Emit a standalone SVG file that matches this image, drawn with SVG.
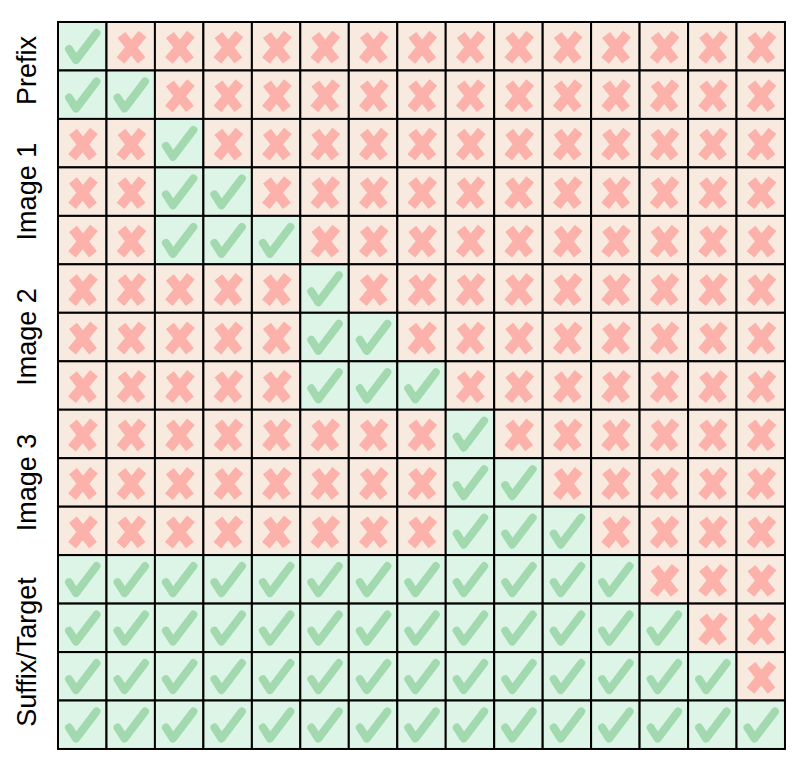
<svg xmlns="http://www.w3.org/2000/svg" xmlns:xlink="http://www.w3.org/1999/xlink" width="797" height="763" viewBox="0 0 797 763">
<style>
.lbl{font-family:"Liberation Sans",Arial,Helvetica,sans-serif;font-size:27px;fill:#000;text-anchor:middle}
.cell{stroke:#000;stroke-width:2}
.ok{fill:#ddf5e7}
.no{fill:#f9eae0}
.chk{fill:none;stroke:#a2d9af;stroke-width:8;stroke-linecap:round;stroke-linejoin:round}
.crs{fill:none;stroke:#fcb1aa;stroke-width:10;stroke-linecap:butt}
</style>
<defs>
<g id="G"><rect class="cell ok" width="48.47" height="48.47"/><path class="chk" d="M11 27 L18 38 L38.5 11"/></g>
<g id="R"><rect class="cell no" width="48.47" height="48.47"/><path class="crs" d="M15 13 L35 38.5 M36 12 L14 38.5"/></g>
</defs>
<g id="labels">
<text class="lbl" transform="translate(36,70.5) rotate(-90)">Prefix</text>
<text class="lbl" transform="translate(36,191.6) rotate(-90)">Image 1</text>
<text class="lbl" transform="translate(36,337) rotate(-90)">Image 2</text>
<text class="lbl" transform="translate(36,482.4) rotate(-90)">Image 3</text>
<text class="lbl" transform="translate(36,652) rotate(-90)">Suffix/Target</text>
</g>
<g id="grid">
<g id="row0">
<g id="c0-0"><use href="#G" x="58" y="22"/></g>
<g id="c0-1"><use href="#R" x="106.5" y="22"/></g>
<g id="c0-2"><use href="#R" x="154.9" y="22"/></g>
<g id="c0-3"><use href="#R" x="203.4" y="22"/></g>
<g id="c0-4"><use href="#R" x="251.9" y="22"/></g>
<g id="c0-5"><use href="#R" x="300.3" y="22"/></g>
<g id="c0-6"><use href="#R" x="348.8" y="22"/></g>
<g id="c0-7"><use href="#R" x="397.3" y="22"/></g>
<g id="c0-8"><use href="#R" x="445.7" y="22"/></g>
<g id="c0-9"><use href="#R" x="494.2" y="22"/></g>
<g id="c0-10"><use href="#R" x="542.7" y="22"/></g>
<g id="c0-11"><use href="#R" x="591.1" y="22"/></g>
<g id="c0-12"><use href="#R" x="639.6" y="22"/></g>
<g id="c0-13"><use href="#R" x="688.1" y="22"/></g>
<g id="c0-14"><use href="#R" x="736.5" y="22"/></g>
</g>
<g id="row1">
<g id="c1-0"><use href="#G" x="58" y="70.5"/></g>
<g id="c1-1"><use href="#G" x="106.5" y="70.5"/></g>
<g id="c1-2"><use href="#R" x="154.9" y="70.5"/></g>
<g id="c1-3"><use href="#R" x="203.4" y="70.5"/></g>
<g id="c1-4"><use href="#R" x="251.9" y="70.5"/></g>
<g id="c1-5"><use href="#R" x="300.3" y="70.5"/></g>
<g id="c1-6"><use href="#R" x="348.8" y="70.5"/></g>
<g id="c1-7"><use href="#R" x="397.3" y="70.5"/></g>
<g id="c1-8"><use href="#R" x="445.7" y="70.5"/></g>
<g id="c1-9"><use href="#R" x="494.2" y="70.5"/></g>
<g id="c1-10"><use href="#R" x="542.7" y="70.5"/></g>
<g id="c1-11"><use href="#R" x="591.1" y="70.5"/></g>
<g id="c1-12"><use href="#R" x="639.6" y="70.5"/></g>
<g id="c1-13"><use href="#R" x="688.1" y="70.5"/></g>
<g id="c1-14"><use href="#R" x="736.5" y="70.5"/></g>
</g>
<g id="row2">
<g id="c2-0"><use href="#R" x="58" y="118.9"/></g>
<g id="c2-1"><use href="#R" x="106.5" y="118.9"/></g>
<g id="c2-2"><use href="#G" x="154.9" y="118.9"/></g>
<g id="c2-3"><use href="#R" x="203.4" y="118.9"/></g>
<g id="c2-4"><use href="#R" x="251.9" y="118.9"/></g>
<g id="c2-5"><use href="#R" x="300.3" y="118.9"/></g>
<g id="c2-6"><use href="#R" x="348.8" y="118.9"/></g>
<g id="c2-7"><use href="#R" x="397.3" y="118.9"/></g>
<g id="c2-8"><use href="#R" x="445.7" y="118.9"/></g>
<g id="c2-9"><use href="#R" x="494.2" y="118.9"/></g>
<g id="c2-10"><use href="#R" x="542.7" y="118.9"/></g>
<g id="c2-11"><use href="#R" x="591.1" y="118.9"/></g>
<g id="c2-12"><use href="#R" x="639.6" y="118.9"/></g>
<g id="c2-13"><use href="#R" x="688.1" y="118.9"/></g>
<g id="c2-14"><use href="#R" x="736.5" y="118.9"/></g>
</g>
<g id="row3">
<g id="c3-0"><use href="#R" x="58" y="167.4"/></g>
<g id="c3-1"><use href="#R" x="106.5" y="167.4"/></g>
<g id="c3-2"><use href="#G" x="154.9" y="167.4"/></g>
<g id="c3-3"><use href="#G" x="203.4" y="167.4"/></g>
<g id="c3-4"><use href="#R" x="251.9" y="167.4"/></g>
<g id="c3-5"><use href="#R" x="300.3" y="167.4"/></g>
<g id="c3-6"><use href="#R" x="348.8" y="167.4"/></g>
<g id="c3-7"><use href="#R" x="397.3" y="167.4"/></g>
<g id="c3-8"><use href="#R" x="445.7" y="167.4"/></g>
<g id="c3-9"><use href="#R" x="494.2" y="167.4"/></g>
<g id="c3-10"><use href="#R" x="542.7" y="167.4"/></g>
<g id="c3-11"><use href="#R" x="591.1" y="167.4"/></g>
<g id="c3-12"><use href="#R" x="639.6" y="167.4"/></g>
<g id="c3-13"><use href="#R" x="688.1" y="167.4"/></g>
<g id="c3-14"><use href="#R" x="736.5" y="167.4"/></g>
</g>
<g id="row4">
<g id="c4-0"><use href="#R" x="58" y="215.9"/></g>
<g id="c4-1"><use href="#R" x="106.5" y="215.9"/></g>
<g id="c4-2"><use href="#G" x="154.9" y="215.9"/></g>
<g id="c4-3"><use href="#G" x="203.4" y="215.9"/></g>
<g id="c4-4"><use href="#G" x="251.9" y="215.9"/></g>
<g id="c4-5"><use href="#R" x="300.3" y="215.9"/></g>
<g id="c4-6"><use href="#R" x="348.8" y="215.9"/></g>
<g id="c4-7"><use href="#R" x="397.3" y="215.9"/></g>
<g id="c4-8"><use href="#R" x="445.7" y="215.9"/></g>
<g id="c4-9"><use href="#R" x="494.2" y="215.9"/></g>
<g id="c4-10"><use href="#R" x="542.7" y="215.9"/></g>
<g id="c4-11"><use href="#R" x="591.1" y="215.9"/></g>
<g id="c4-12"><use href="#R" x="639.6" y="215.9"/></g>
<g id="c4-13"><use href="#R" x="688.1" y="215.9"/></g>
<g id="c4-14"><use href="#R" x="736.5" y="215.9"/></g>
</g>
<g id="row5">
<g id="c5-0"><use href="#R" x="58" y="264.3"/></g>
<g id="c5-1"><use href="#R" x="106.5" y="264.3"/></g>
<g id="c5-2"><use href="#R" x="154.9" y="264.3"/></g>
<g id="c5-3"><use href="#R" x="203.4" y="264.3"/></g>
<g id="c5-4"><use href="#R" x="251.9" y="264.3"/></g>
<g id="c5-5"><use href="#G" x="300.3" y="264.3"/></g>
<g id="c5-6"><use href="#R" x="348.8" y="264.3"/></g>
<g id="c5-7"><use href="#R" x="397.3" y="264.3"/></g>
<g id="c5-8"><use href="#R" x="445.7" y="264.3"/></g>
<g id="c5-9"><use href="#R" x="494.2" y="264.3"/></g>
<g id="c5-10"><use href="#R" x="542.7" y="264.3"/></g>
<g id="c5-11"><use href="#R" x="591.1" y="264.3"/></g>
<g id="c5-12"><use href="#R" x="639.6" y="264.3"/></g>
<g id="c5-13"><use href="#R" x="688.1" y="264.3"/></g>
<g id="c5-14"><use href="#R" x="736.5" y="264.3"/></g>
</g>
<g id="row6">
<g id="c6-0"><use href="#R" x="58" y="312.8"/></g>
<g id="c6-1"><use href="#R" x="106.5" y="312.8"/></g>
<g id="c6-2"><use href="#R" x="154.9" y="312.8"/></g>
<g id="c6-3"><use href="#R" x="203.4" y="312.8"/></g>
<g id="c6-4"><use href="#R" x="251.9" y="312.8"/></g>
<g id="c6-5"><use href="#G" x="300.3" y="312.8"/></g>
<g id="c6-6"><use href="#G" x="348.8" y="312.8"/></g>
<g id="c6-7"><use href="#R" x="397.3" y="312.8"/></g>
<g id="c6-8"><use href="#R" x="445.7" y="312.8"/></g>
<g id="c6-9"><use href="#R" x="494.2" y="312.8"/></g>
<g id="c6-10"><use href="#R" x="542.7" y="312.8"/></g>
<g id="c6-11"><use href="#R" x="591.1" y="312.8"/></g>
<g id="c6-12"><use href="#R" x="639.6" y="312.8"/></g>
<g id="c6-13"><use href="#R" x="688.1" y="312.8"/></g>
<g id="c6-14"><use href="#R" x="736.5" y="312.8"/></g>
</g>
<g id="row7">
<g id="c7-0"><use href="#R" x="58" y="361.3"/></g>
<g id="c7-1"><use href="#R" x="106.5" y="361.3"/></g>
<g id="c7-2"><use href="#R" x="154.9" y="361.3"/></g>
<g id="c7-3"><use href="#R" x="203.4" y="361.3"/></g>
<g id="c7-4"><use href="#R" x="251.9" y="361.3"/></g>
<g id="c7-5"><use href="#G" x="300.3" y="361.3"/></g>
<g id="c7-6"><use href="#G" x="348.8" y="361.3"/></g>
<g id="c7-7"><use href="#G" x="397.3" y="361.3"/></g>
<g id="c7-8"><use href="#R" x="445.7" y="361.3"/></g>
<g id="c7-9"><use href="#R" x="494.2" y="361.3"/></g>
<g id="c7-10"><use href="#R" x="542.7" y="361.3"/></g>
<g id="c7-11"><use href="#R" x="591.1" y="361.3"/></g>
<g id="c7-12"><use href="#R" x="639.6" y="361.3"/></g>
<g id="c7-13"><use href="#R" x="688.1" y="361.3"/></g>
<g id="c7-14"><use href="#R" x="736.5" y="361.3"/></g>
</g>
<g id="row8">
<g id="c8-0"><use href="#R" x="58" y="409.7"/></g>
<g id="c8-1"><use href="#R" x="106.5" y="409.7"/></g>
<g id="c8-2"><use href="#R" x="154.9" y="409.7"/></g>
<g id="c8-3"><use href="#R" x="203.4" y="409.7"/></g>
<g id="c8-4"><use href="#R" x="251.9" y="409.7"/></g>
<g id="c8-5"><use href="#R" x="300.3" y="409.7"/></g>
<g id="c8-6"><use href="#R" x="348.8" y="409.7"/></g>
<g id="c8-7"><use href="#R" x="397.3" y="409.7"/></g>
<g id="c8-8"><use href="#G" x="445.7" y="409.7"/></g>
<g id="c8-9"><use href="#R" x="494.2" y="409.7"/></g>
<g id="c8-10"><use href="#R" x="542.7" y="409.7"/></g>
<g id="c8-11"><use href="#R" x="591.1" y="409.7"/></g>
<g id="c8-12"><use href="#R" x="639.6" y="409.7"/></g>
<g id="c8-13"><use href="#R" x="688.1" y="409.7"/></g>
<g id="c8-14"><use href="#R" x="736.5" y="409.7"/></g>
</g>
<g id="row9">
<g id="c9-0"><use href="#R" x="58" y="458.2"/></g>
<g id="c9-1"><use href="#R" x="106.5" y="458.2"/></g>
<g id="c9-2"><use href="#R" x="154.9" y="458.2"/></g>
<g id="c9-3"><use href="#R" x="203.4" y="458.2"/></g>
<g id="c9-4"><use href="#R" x="251.9" y="458.2"/></g>
<g id="c9-5"><use href="#R" x="300.3" y="458.2"/></g>
<g id="c9-6"><use href="#R" x="348.8" y="458.2"/></g>
<g id="c9-7"><use href="#R" x="397.3" y="458.2"/></g>
<g id="c9-8"><use href="#G" x="445.7" y="458.2"/></g>
<g id="c9-9"><use href="#G" x="494.2" y="458.2"/></g>
<g id="c9-10"><use href="#R" x="542.7" y="458.2"/></g>
<g id="c9-11"><use href="#R" x="591.1" y="458.2"/></g>
<g id="c9-12"><use href="#R" x="639.6" y="458.2"/></g>
<g id="c9-13"><use href="#R" x="688.1" y="458.2"/></g>
<g id="c9-14"><use href="#R" x="736.5" y="458.2"/></g>
</g>
<g id="row10">
<g id="c10-0"><use href="#R" x="58" y="506.7"/></g>
<g id="c10-1"><use href="#R" x="106.5" y="506.7"/></g>
<g id="c10-2"><use href="#R" x="154.9" y="506.7"/></g>
<g id="c10-3"><use href="#R" x="203.4" y="506.7"/></g>
<g id="c10-4"><use href="#R" x="251.9" y="506.7"/></g>
<g id="c10-5"><use href="#R" x="300.3" y="506.7"/></g>
<g id="c10-6"><use href="#R" x="348.8" y="506.7"/></g>
<g id="c10-7"><use href="#R" x="397.3" y="506.7"/></g>
<g id="c10-8"><use href="#G" x="445.7" y="506.7"/></g>
<g id="c10-9"><use href="#G" x="494.2" y="506.7"/></g>
<g id="c10-10"><use href="#G" x="542.7" y="506.7"/></g>
<g id="c10-11"><use href="#R" x="591.1" y="506.7"/></g>
<g id="c10-12"><use href="#R" x="639.6" y="506.7"/></g>
<g id="c10-13"><use href="#R" x="688.1" y="506.7"/></g>
<g id="c10-14"><use href="#R" x="736.5" y="506.7"/></g>
</g>
<g id="row11">
<g id="c11-0"><use href="#G" x="58" y="555.1"/></g>
<g id="c11-1"><use href="#G" x="106.5" y="555.1"/></g>
<g id="c11-2"><use href="#G" x="154.9" y="555.1"/></g>
<g id="c11-3"><use href="#G" x="203.4" y="555.1"/></g>
<g id="c11-4"><use href="#G" x="251.9" y="555.1"/></g>
<g id="c11-5"><use href="#G" x="300.3" y="555.1"/></g>
<g id="c11-6"><use href="#G" x="348.8" y="555.1"/></g>
<g id="c11-7"><use href="#G" x="397.3" y="555.1"/></g>
<g id="c11-8"><use href="#G" x="445.7" y="555.1"/></g>
<g id="c11-9"><use href="#G" x="494.2" y="555.1"/></g>
<g id="c11-10"><use href="#G" x="542.7" y="555.1"/></g>
<g id="c11-11"><use href="#G" x="591.1" y="555.1"/></g>
<g id="c11-12"><use href="#R" x="639.6" y="555.1"/></g>
<g id="c11-13"><use href="#R" x="688.1" y="555.1"/></g>
<g id="c11-14"><use href="#R" x="736.5" y="555.1"/></g>
</g>
<g id="row12">
<g id="c12-0"><use href="#G" x="58" y="603.6"/></g>
<g id="c12-1"><use href="#G" x="106.5" y="603.6"/></g>
<g id="c12-2"><use href="#G" x="154.9" y="603.6"/></g>
<g id="c12-3"><use href="#G" x="203.4" y="603.6"/></g>
<g id="c12-4"><use href="#G" x="251.9" y="603.6"/></g>
<g id="c12-5"><use href="#G" x="300.3" y="603.6"/></g>
<g id="c12-6"><use href="#G" x="348.8" y="603.6"/></g>
<g id="c12-7"><use href="#G" x="397.3" y="603.6"/></g>
<g id="c12-8"><use href="#G" x="445.7" y="603.6"/></g>
<g id="c12-9"><use href="#G" x="494.2" y="603.6"/></g>
<g id="c12-10"><use href="#G" x="542.7" y="603.6"/></g>
<g id="c12-11"><use href="#G" x="591.1" y="603.6"/></g>
<g id="c12-12"><use href="#G" x="639.6" y="603.6"/></g>
<g id="c12-13"><use href="#R" x="688.1" y="603.6"/></g>
<g id="c12-14"><use href="#R" x="736.5" y="603.6"/></g>
</g>
<g id="row13">
<g id="c13-0"><use href="#G" x="58" y="652.1"/></g>
<g id="c13-1"><use href="#G" x="106.5" y="652.1"/></g>
<g id="c13-2"><use href="#G" x="154.9" y="652.1"/></g>
<g id="c13-3"><use href="#G" x="203.4" y="652.1"/></g>
<g id="c13-4"><use href="#G" x="251.9" y="652.1"/></g>
<g id="c13-5"><use href="#G" x="300.3" y="652.1"/></g>
<g id="c13-6"><use href="#G" x="348.8" y="652.1"/></g>
<g id="c13-7"><use href="#G" x="397.3" y="652.1"/></g>
<g id="c13-8"><use href="#G" x="445.7" y="652.1"/></g>
<g id="c13-9"><use href="#G" x="494.2" y="652.1"/></g>
<g id="c13-10"><use href="#G" x="542.7" y="652.1"/></g>
<g id="c13-11"><use href="#G" x="591.1" y="652.1"/></g>
<g id="c13-12"><use href="#G" x="639.6" y="652.1"/></g>
<g id="c13-13"><use href="#G" x="688.1" y="652.1"/></g>
<g id="c13-14"><use href="#R" x="736.5" y="652.1"/></g>
</g>
<g id="row14">
<g id="c14-0"><use href="#G" x="58" y="700.5"/></g>
<g id="c14-1"><use href="#G" x="106.5" y="700.5"/></g>
<g id="c14-2"><use href="#G" x="154.9" y="700.5"/></g>
<g id="c14-3"><use href="#G" x="203.4" y="700.5"/></g>
<g id="c14-4"><use href="#G" x="251.9" y="700.5"/></g>
<g id="c14-5"><use href="#G" x="300.3" y="700.5"/></g>
<g id="c14-6"><use href="#G" x="348.8" y="700.5"/></g>
<g id="c14-7"><use href="#G" x="397.3" y="700.5"/></g>
<g id="c14-8"><use href="#G" x="445.7" y="700.5"/></g>
<g id="c14-9"><use href="#G" x="494.2" y="700.5"/></g>
<g id="c14-10"><use href="#G" x="542.7" y="700.5"/></g>
<g id="c14-11"><use href="#G" x="591.1" y="700.5"/></g>
<g id="c14-12"><use href="#G" x="639.6" y="700.5"/></g>
<g id="c14-13"><use href="#G" x="688.1" y="700.5"/></g>
<g id="c14-14"><use href="#G" x="736.5" y="700.5"/></g>
</g>
</g>
<g id="connectors"/>
</svg>
